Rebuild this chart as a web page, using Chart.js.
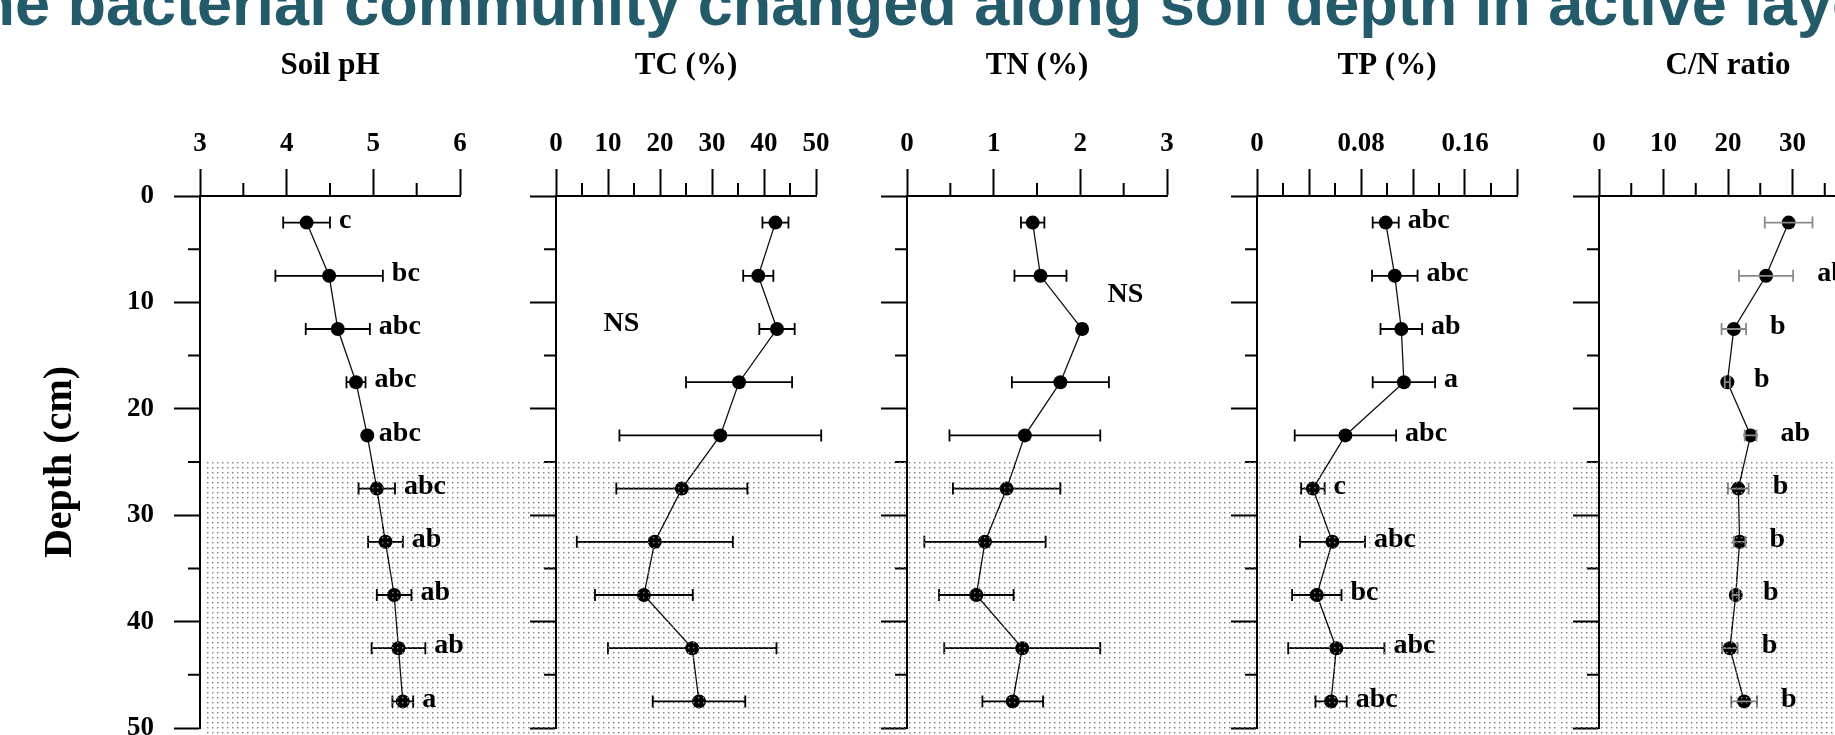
<!DOCTYPE html>
<html>
<head>
<meta charset="utf-8">
<script src="https://cdn.jsdelivr.net/npm/chart.js@4.4.1/dist/chart.umd.min.js"></script>
<style>
  html, body { margin: 0; padding: 0; background: #fff; }
  body { width: 1835px; height: 735px; overflow: hidden; position: relative; }
  canvas.panel { position: absolute; top: 0; }
  #headline {
    position: absolute; left: -62px; top: -28px; z-index: 5;
    font: bold 63px 'Liberation Sans', Arial, sans-serif; line-height: 63px;
    color: #245b6b; white-space: nowrap;
  }
</style>
</head>
<body>
<div id="headline">The bacterial community changed along soil depth in active layer</div>
<script>
Chart.defaults.font.family = "'Liberation Serif', 'Times New Roman', serif";
Chart.defaults.color = '#000';

// sampling depth (cm), midpoints of 5 cm layers
const depthCm = [2.5, 7.5, 12.5, 17.5, 22.5, 27.5, 32.5, 37.5, 42.5, 47.5];

const phMean = [4.23, 4.49, 4.59, 4.80, 4.93, 5.04, 5.14, 5.24, 5.29, 5.34];
const phErr = [0.27, 0.62, 0.37, 0.11, 0.03, 0.21, 0.20, 0.20, 0.31, 0.12];
const phLetters = ['c', 'bc', 'abc', 'abc', 'abc', 'abc', 'ab', 'ab', 'ab', 'a'];

const tcMean = [42.2, 38.9, 42.5, 35.2, 31.6, 24.2, 19.0, 16.9, 26.2, 27.5];
const tcErr = [2.5, 2.9, 3.4, 10.2, 19.4, 12.6, 15.0, 9.4, 16.2, 8.9];

const tnMean = [1.45, 1.54, 2.02, 1.77, 1.36, 1.15, 0.90, 0.80, 1.33, 1.22];
const tnErr = [0.135, 0.30, 0.04, 0.56, 0.87, 0.62, 0.70, 0.43, 0.90, 0.35];

const tpMean = [0.099, 0.106, 0.111, 0.113, 0.068, 0.043, 0.058, 0.046, 0.061, 0.057];
const tpErr = [0.010, 0.0175, 0.016, 0.024, 0.039, 0.009, 0.025, 0.019, 0.037, 0.012];
const tpLetters = ['abc', 'abc', 'ab', 'a', 'abc', 'c', 'abc', 'bc', 'abc', 'abc'];

const cnMean = [29.4, 25.9, 20.9, 19.9, 23.5, 21.6, 21.8, 21.2, 20.3, 22.5];
const cnErr = [3.7, 4.2, 1.9, 0.4, 0.9, 1.6, 0.9, 0.5, 1.2, 2.0];
const cnLetters = ['a', 'ab', 'b', 'b', 'ab', 'b', 'b', 'b', 'b', 'b'];

const activeLayerDepth = 25; // shaded below this depth

const isStep = (v, step) => Math.abs(v / step - Math.round(v / step)) < 1e-6;

// dotted fill, blended with 'difference' so marks under it get light dots
function makeStipple() {
  const c = document.createElement('canvas');
  c.width = 5; c.height = 5;
  const g = c.getContext('2d');
  g.fillStyle = 'rgb(125,125,125)';
  g.fillRect(2, 2, 1, 1);
  g.fillStyle = 'rgb(55,55,55)';
  g.fillRect(3, 2, 1, 1);
  g.fillRect(2, 3, 1, 1);
  g.fillStyle = 'rgb(25,25,25)';
  g.fillRect(3, 3, 1, 1);
  return c;
}
const stippleTile = makeStipple();

// Chart.js reserves room for half tick labels at the ends; not wanted here
function zeroPadding(s) {
  s.paddingTop = 0; s.paddingBottom = 0; s.paddingLeft = 0; s.paddingRight = 0;
}

const profilePlugin = {
  id: 'profile',
  beforeDraw(chart) {
    const ctx = chart.ctx;
    ctx.save();
    ctx.fillStyle = '#fff';
    ctx.fillRect(0, 0, chart.width, chart.height);
    ctx.restore();
  },
  beforeDatasetsDraw(chart, args, opts) {
    // short minor tick marks
    const { ctx, chartArea, scales: { x, y } } = chart;
    ctx.save();
    ctx.strokeStyle = '#000';
    ctx.lineWidth = 2;
    ctx.beginPath();
    x.ticks.forEach(t => {
      if (isStep(t.value, opts.xMajor)) return;
      const px = x.getPixelForValue(t.value);
      ctx.moveTo(px, chartArea.top - 13);
      ctx.lineTo(px, chartArea.top);
    });
    y.ticks.forEach(t => {
      if (isStep(t.value, 10)) return;
      const py = y.getPixelForValue(t.value);
      ctx.moveTo(chartArea.left - 12, py);
      ctx.lineTo(chartArea.left, py);
    });
    ctx.stroke();
    ctx.restore();
  },
  afterDatasetsDraw(chart, args, opts) {
    const { ctx, chartArea, scales: { x, y } } = chart;
    const ds = chart.data.datasets[0];
    ctx.save();
    ctx.strokeStyle = opts.barColor;
    ctx.lineWidth = 1.8;
    ctx.beginPath();
    ds.data.forEach((p, i) => {
      const e = ds.errorBars[i];
      const xl = x.getPixelForValue(p.x - e);
      const xr = x.getPixelForValue(p.x + e);
      const py = y.getPixelForValue(p.y);
      ctx.moveTo(xl, py); ctx.lineTo(xr, py);
      ctx.moveTo(xl, py - 6); ctx.lineTo(xl, py + 6);
      ctx.moveTo(xr, py - 6); ctx.lineTo(xr, py + 6);
    });
    ctx.stroke();

    const y0 = Math.round(y.getPixelForValue(activeLayerDepth));
    const x0 = opts.shadeInset == null ? 0 : chartArea.left + opts.shadeInset;
    ctx.globalCompositeOperation = 'difference';
    ctx.fillStyle = ctx.createPattern(stippleTile, 'repeat');
    ctx.fillRect(x0, y0, chart.width - x0, chart.height - y0);
    ctx.restore();
  },
  afterDraw(chart, args, opts) {
    const { ctx, scales: { x, y } } = chart;
    const ds = chart.data.datasets[0];
    ctx.save();
    ctx.fillStyle = '#000';
    ctx.font = "bold 28px 'Liberation Serif', 'Times New Roman', serif";
    ctx.textBaseline = 'middle';
    if (ds.letters) {
      ctx.textAlign = 'left';
      ds.data.forEach((p, i) => {
        const xr = x.getPixelForValue(p.x + ds.errorBars[i]);
        ctx.fillText(ds.letters[i], xr + opts.labelGap, y.getPixelForValue(p.y) - 2);
      });
    }
    if (opts.ns) {
      ctx.textAlign = 'center';
      ctx.fillText('NS', x.getPixelForValue(opts.ns.x), y.getPixelForValue(opts.ns.y));
    }
    ctx.restore();
  }
};

// canvases tile side by side so the shading runs on without a seam
const panels = [
  { left: 0, width: 516, axisWidth: 200, padRight: 56, title: 'Soil pH',
    min: 3, max: 6, minor: 0.5, major: 1, labelEvery: 1,
    mean: phMean, err: phErr, letters: phLetters, depthAxis: true,
    labelGap: 9, shadeInset: 7, barColor: '#000' },
  { left: 516, width: 351, axisWidth: 40, padRight: 51, title: 'TC (%)',
    min: 0, max: 50, minor: 5, major: 10, labelEvery: 10,
    mean: tcMean, err: tcErr, ns: { x: 12.6, y: 12 }, barColor: '#000' },
  { left: 867, width: 350, axisWidth: 40, padRight: 50, title: 'TN (%)',
    min: 0, max: 3, minor: 0.5, major: 1, labelEvery: 1,
    mean: tnMean, err: tnErr, ns: { x: 2.52, y: 9.3 }, barColor: '#000' },
  { left: 1217, width: 342, axisWidth: 40, padRight: 42, title: 'TP (%)',
    min: 0, max: 0.2, minor: 0.02, major: 0.04, labelEvery: 0.08,
    mean: tpMean, err: tpErr, letters: tpLetters, labelGap: 9, barColor: '#000' },
  { left: 1559, width: 318, axisWidth: 40, padRight: 20, title: 'C/N ratio',
    min: 0, max: 40, minor: 5, major: 10, labelEvery: 10,
    mean: cnMean, err: cnErr, letters: cnLetters, labelGap: 24, barColor: '#8a8a8a' }
];

panels.forEach(p => {
  const canvas = document.createElement('canvas');
  canvas.className = 'panel';
  canvas.width = p.width;
  canvas.height = 735;
  canvas.style.left = p.left + 'px';
  document.body.appendChild(canvas);

  new Chart(canvas.getContext('2d'), {
    type: 'scatter',
    data: {
      datasets: [{
        data: depthCm.map((d, i) => ({ x: p.mean[i], y: d })),
        showLine: true,
        borderColor: '#111',
        borderWidth: 1.3,
        pointRadius: 7,
        pointBackgroundColor: '#000',
        pointBorderWidth: 0,
        errorBars: p.err,
        letters: p.letters
      }]
    },
    options: {
      responsive: false,
      animation: false,
      devicePixelRatio: 1,
      layout: { padding: { left: 0, right: p.padRight, top: 0, bottom: 5 } },
      plugins: {
        legend: { display: false },
        tooltip: { enabled: false },
        profile: { xMajor: p.major, barColor: p.barColor, labelGap: p.labelGap,
                   ns: p.ns, shadeInset: p.shadeInset }
      },
      scales: {
        x: {
          type: 'linear', position: 'top', min: p.min, max: p.max,
          afterFit: s => { s.height = 196; zeroPadding(s); },
          border: { display: true, color: '#000', width: 2 },
          grid: {
            drawOnChartArea: false, drawTicks: true, tickLength: 27, tickWidth: 2,
            tickColor: c => isStep(c.tick.value, p.major) ? '#000' : 'rgba(0,0,0,0)'
          },
          ticks: {
            stepSize: p.minor, autoSkip: false, maxRotation: 0, minRotation: 0, padding: 9,
            font: { size: 27, weight: 'bold' },
            callback: v => isStep(v, p.labelEvery) ? String(+v.toFixed(2)) : ''
          },
          title: {
            display: true, text: p.title,
            font: { size: 31, weight: 'bold' }, padding: { top: 47, bottom: 0 }
          }
        },
        y: {
          type: 'linear', position: 'left', min: 0, max: 50, reverse: true,
          afterFit: s => { s.width = p.axisWidth; zeroPadding(s); },
          border: { display: true, color: '#000', width: 2 },
          grid: {
            drawOnChartArea: false, drawTicks: true, tickLength: 26, tickWidth: 2,
            tickColor: c => isStep(c.tick.value, 10) ? '#000' : 'rgba(0,0,0,0)'
          },
          ticks: {
            display: !!p.depthAxis, stepSize: 5, autoSkip: false, padding: 20,
            font: { size: 27, weight: 'bold' },
            callback: v => isStep(v, 10) ? String(v) : ''
          },
          title: {
            display: !!p.depthAxis, text: 'Depth (cm)',
            font: { size: 40, weight: 'bold' }, padding: { top: 37, bottom: 0 }
          }
        }
      }
    },
    plugins: [profilePlugin]
  });
});
</script>
</body>
</html>
